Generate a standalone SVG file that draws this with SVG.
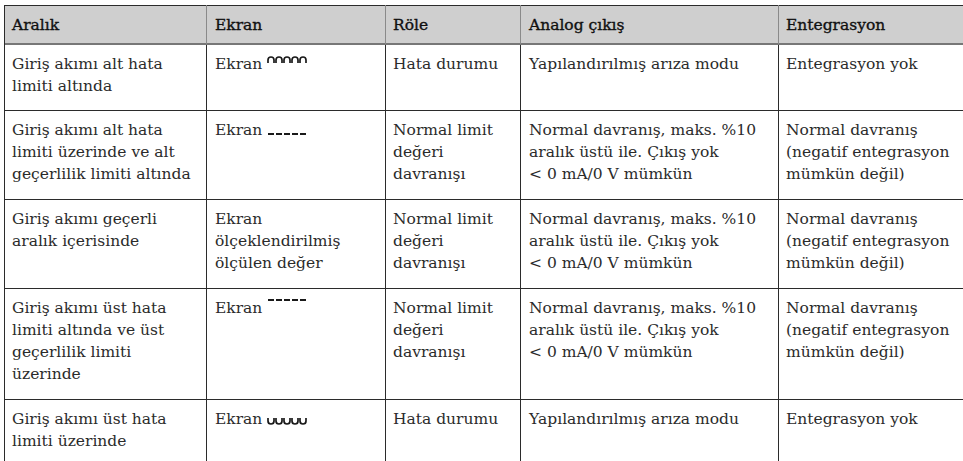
<svg xmlns="http://www.w3.org/2000/svg" width="963" height="461" viewBox="0 0 963 461">
<style>
  text { font-family: "DejaVu Serif", "Liberation Serif", serif; font-size: 15.5px; fill: #2b2b2b; }
  .hd { fill: #111; stroke: #111; stroke-width: 0.35; }
  .grid { stroke: #2b2b2b; stroke-width: 1; fill: none; }
  .hgrid { stroke: #8a8a8a; stroke-width: 1; fill: none; }
  .sym { stroke: #1a1a1a; stroke-width: 1.7; fill: none; }
  .bar { fill: #1a1a1a; }
</style>
<rect width="963" height="461" fill="#ffffff"/>
<g id="grid">
  <rect x="4" y="5" width="959" height="39" fill="#cfcfcf"/>
  <line class="grid" x1="4" y1="5.5" x2="963" y2="5.5"/>
  <line x1="4" y1="44" x2="963" y2="44" stroke="#777" stroke-width="2"/>
  <line class="hgrid" x1="206.5" y1="5" x2="206.5" y2="44"/>
  <line class="hgrid" x1="385.5" y1="5" x2="385.5" y2="44"/>
  <line class="hgrid" x1="520.5" y1="5" x2="520.5" y2="44"/>
  <line class="hgrid" x1="778.5" y1="5" x2="778.5" y2="44"/>
  <line class="grid" x1="4.5" y1="5" x2="4.5" y2="461"/>
  <line class="grid" x1="206.5" y1="45" x2="206.5" y2="461"/>
  <line class="grid" x1="385.5" y1="45" x2="385.5" y2="461"/>
  <line class="grid" x1="520.5" y1="45" x2="520.5" y2="461"/>
  <line class="grid" x1="778.5" y1="45" x2="778.5" y2="461"/>
  <line class="grid" x1="4" y1="110.5" x2="963" y2="110.5"/>
  <line class="grid" x1="4" y1="199.5" x2="963" y2="199.5"/>
  <line class="grid" x1="4" y1="288.5" x2="963" y2="288.5"/>
  <line class="grid" x1="4" y1="399.5" x2="963" y2="399.5"/>
</g>
<g id="header">
  <text class="hd" x="12" y="30">Aralık</text>
  <text class="hd" x="215" y="30">Ekran</text>
  <text class="hd" x="393" y="30">Röle</text>
  <text class="hd" x="529" y="30">Analog çıkış</text>
  <text class="hd" x="786" y="30">Entegrasyon</text>
</g>
<g id="row1">
  <text x="12" y="69">Giriş akımı alt hata</text>
  <text x="12" y="91">limiti altında</text>
  <text x="215" y="69">Ekran</text>
  <g class="sym">
    <path d="M268 63v-3a3 3 0 0 1 6 0v3"/>
    <path d="M276 63v-3a3 3 0 0 1 6 0v3"/>
    <path d="M284 63v-3a3 3 0 0 1 6 0v3"/>
    <path d="M292 63v-3a3 3 0 0 1 6 0v3"/>
    <path d="M300 63v-3a3 3 0 0 1 6 0v3"/>
  </g>
  <text x="393" y="69">Hata durumu</text>
  <text x="529" y="69">Yapılandırılmış arıza modu</text>
  <text x="786" y="69">Entegrasyon yok</text>
</g>
<g id="row2">
  <text x="12" y="135">Giriş akımı alt hata</text>
  <text x="12" y="157">limiti üzerinde ve alt</text>
  <text x="12" y="179">geçerlilik limiti altında</text>
  <text x="215" y="135">Ekran</text>
  <g class="bar">
    <rect x="268" y="133" width="6" height="2"/>
    <rect x="276" y="133" width="6" height="2"/>
    <rect x="284" y="133" width="6" height="2"/>
    <rect x="292" y="133" width="6" height="2"/>
    <rect x="300" y="133" width="6" height="2"/>
  </g>
  <text x="393" y="135">Normal limit</text>
  <text x="393" y="157">değeri</text>
  <text x="393" y="179">davranışı</text>
  <text x="529" y="135">Normal davranış, maks. %10</text>
  <text x="529" y="157">aralık üstü ile. Çıkış yok</text>
  <text x="529" y="179">&lt; 0 mA/0 V mümkün</text>
  <text x="786" y="135">Normal davranış</text>
  <text x="786" y="157">(negatif entegrasyon</text>
  <text x="786" y="179">mümkün değil)</text>
</g>
<g id="row3">
  <text x="12" y="224">Giriş akımı geçerli</text>
  <text x="12" y="246">aralık içerisinde</text>
  <text x="215" y="224">Ekran</text>
  <text x="215" y="246">ölçeklendirilmiş</text>
  <text x="215" y="268">ölçülen değer</text>
  <text x="393" y="224">Normal limit</text>
  <text x="393" y="246">değeri</text>
  <text x="393" y="268">davranışı</text>
  <text x="529" y="224">Normal davranış, maks. %10</text>
  <text x="529" y="246">aralık üstü ile. Çıkış yok</text>
  <text x="529" y="268">&lt; 0 mA/0 V mümkün</text>
  <text x="786" y="224">Normal davranış</text>
  <text x="786" y="246">(negatif entegrasyon</text>
  <text x="786" y="268">mümkün değil)</text>
</g>
<g id="row4">
  <text x="12" y="313">Giriş akımı üst hata</text>
  <text x="12" y="335">limiti altında ve üst</text>
  <text x="12" y="357">geçerlilik limiti</text>
  <text x="12" y="379">üzerinde</text>
  <text x="215" y="313">Ekran</text>
  <g class="bar">
    <rect x="268" y="299" width="6" height="2"/>
    <rect x="276" y="299" width="6" height="2"/>
    <rect x="284" y="299" width="6" height="2"/>
    <rect x="292" y="299" width="6" height="2"/>
    <rect x="300" y="299" width="6" height="2"/>
  </g>
  <text x="393" y="313">Normal limit</text>
  <text x="393" y="335">değeri</text>
  <text x="393" y="357">davranışı</text>
  <text x="529" y="313">Normal davranış, maks. %10</text>
  <text x="529" y="335">aralık üstü ile. Çıkış yok</text>
  <text x="529" y="357">&lt; 0 mA/0 V mümkün</text>
  <text x="786" y="313">Normal davranış</text>
  <text x="786" y="335">(negatif entegrasyon</text>
  <text x="786" y="357">mümkün değil)</text>
</g>
<g id="row5">
  <text x="12" y="424">Giriş akımı üst hata</text>
  <text x="12" y="446">limiti üzerinde</text>
  <text x="215" y="424">Ekran</text>
  <g class="sym">
    <path d="M268 418v3a3 3 0 0 0 6 0v-3"/>
    <path d="M276 418v3a3 3 0 0 0 6 0v-3"/>
    <path d="M284 418v3a3 3 0 0 0 6 0v-3"/>
    <path d="M292 418v3a3 3 0 0 0 6 0v-3"/>
    <path d="M300 418v3a3 3 0 0 0 6 0v-3"/>
  </g>
  <text x="393" y="424">Hata durumu</text>
  <text x="529" y="424">Yapılandırılmış arıza modu</text>
  <text x="786" y="424">Entegrasyon yok</text>
</g>
</svg>
